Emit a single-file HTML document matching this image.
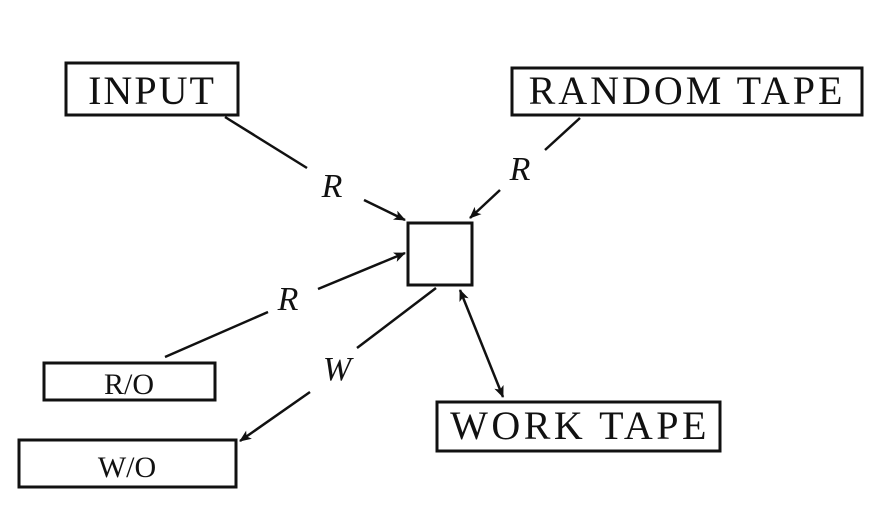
<!DOCTYPE html>
<html><head><style>
body{margin:0;background:#fff;}
svg text{font-family:"Liberation Serif",serif;fill:#111;}
</style></head><body>
<svg width="890" height="510" viewBox="0 0 890 510" xmlns="http://www.w3.org/2000/svg">
<defs>
<marker id="a" markerWidth="12" markerHeight="10" refX="11" refY="5" orient="auto" markerUnits="userSpaceOnUse">
<path d="M0,0 L12,5 L0,10 L3,5 Z" fill="#111"/></marker>
<marker id="s" markerWidth="12" markerHeight="10" refX="1" refY="5" orient="auto" markerUnits="userSpaceOnUse">
<path d="M12,0 L0,5 L12,10 L9,5 Z" fill="#111"/></marker>
</defs>
<g fill="none" stroke="#111" stroke-width="3">
<rect x="66" y="63" width="172" height="52"/>
<rect x="512" y="68" width="350" height="47"/>
<rect x="408" y="223" width="64" height="62"/>
<rect x="44" y="363" width="171" height="37"/>
<rect x="19" y="440" width="217" height="47"/>
<rect x="437" y="402" width="283" height="49"/>
</g>
<g stroke="#111" stroke-width="2.5" fill="none">
<line x1="225" y1="117" x2="307" y2="168"/>
<line x1="364" y1="200" x2="405" y2="220" marker-end="url(#a)"/>
<line x1="580" y1="118" x2="545" y2="150"/>
<line x1="500" y1="190" x2="470" y2="218" marker-end="url(#a)"/>
<line x1="165" y1="357" x2="268" y2="312"/>
<line x1="318" y1="289" x2="405" y2="253" marker-end="url(#a)"/>
<line x1="436" y1="288" x2="357" y2="348"/>
<line x1="310" y1="392" x2="240" y2="441" marker-end="url(#a)"/>
<line x1="460" y1="290" x2="503" y2="397" marker-start="url(#s)" marker-end="url(#a)"/>
</g>
<g font-size="40">
<text x="152" y="104" text-anchor="middle" letter-spacing="2">INPUT</text>
<text x="687" y="104" text-anchor="middle" letter-spacing="3">RANDOM TAPE</text>
<text x="580" y="439" text-anchor="middle" letter-spacing="3.5">WORK TAPE</text>
</g>
<g font-size="30">
<text x="129" y="394" text-anchor="middle">R/O</text>
<text x="127" y="477" text-anchor="middle">W/O</text>
</g>
<g font-size="34" font-style="italic">
<text x="332" y="197" text-anchor="middle">R</text>
<text x="520" y="180" text-anchor="middle">R</text>
<text x="288" y="310" text-anchor="middle">R</text>
<text x="337" y="380" text-anchor="middle">W</text>
</g>
</svg>
</body></html>
